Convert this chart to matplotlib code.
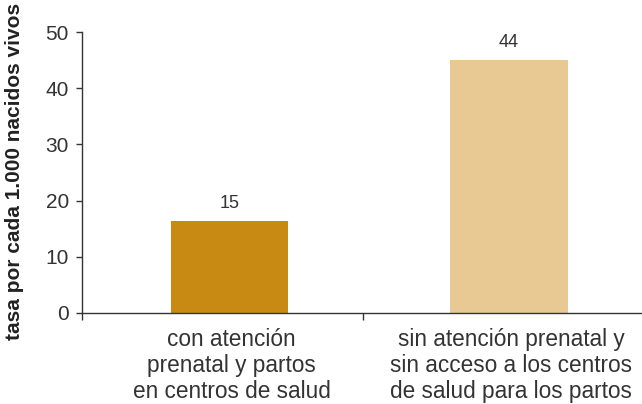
import matplotlib
matplotlib.use("Agg")
import matplotlib.pyplot as plt

plt.rcParams['font.family'] = ['Liberation Sans', 'DejaVu Sans']

categories = ["con atención\nprenatal y partos\nen centros de salud",
              "sin atención prenatal y\nsin acceso a los centros\nde salud para los partos"]
bar_values = [16.4, 45.0]
value_labels = ["15", "44"]
bar_colors = ["#C98A14", "#E8C994"]
y_ticks = [0, 10, 20, 30, 40, 50]
y_label = "tasa por cada 1.000 nacidos vivos"

text_color = "#333333"
axis_color = "#333333"

fig = plt.figure(figsize=(6.42, 4.04), dpi=100)
ax = fig.add_axes([82/642, 1 - 313/404, 1 - 82/642, (313 - 32)/404])

x = list(range(len(categories)))
bars = ax.bar(x, bar_values, width=0.419, color=bar_colors, zorder=2)

for b, lab in zip(bars, value_labels):
    ax.annotate(lab, (b.get_x() + b.get_width()/2, b.get_height()),
                xytext=(0, 6.5), textcoords="offset points",
                ha="center", va="bottom", fontsize=13, color=text_color)

xl = -0.528
ax.set_xlim(xl, 1.476)
ax.set_ylim(0, 50)

for s in ["top", "right"]:
    ax.spines[s].set_visible(False)
ax.spines["left"].set_color(axis_color)
ax.spines["bottom"].set_color(axis_color)
ax.spines["left"].set_linewidth(1.0)
ax.spines["bottom"].set_linewidth(1.0)

ax.set_yticks(y_ticks)
ax.set_yticklabels([str(t) for t in y_ticks], fontsize=15, color=text_color)
ax.tick_params(axis="y", direction="out", length=4.5, width=1, color=axis_color, pad=5)

# boundary ticks on x axis
ax.set_xticks([xl, 0.478])
ax.set_xticklabels(["", ""])
ax.tick_params(axis="x", direction="out", length=5, width=1, color=axis_color)

for xi, cat in zip(x, categories):
    ax.text(xi + 0.008, -0.055, cat, transform=ax.get_xaxis_transform(),
            ha="center", va="top", fontsize=16.3, color=text_color,
            linespacing=1.15)

fig.text(15/642, 1 - 171/404, y_label, rotation=90, ha="center", va="center",
         fontsize=15, fontweight="bold", color="#222222")

fig.savefig("out.png", dpi=100)
